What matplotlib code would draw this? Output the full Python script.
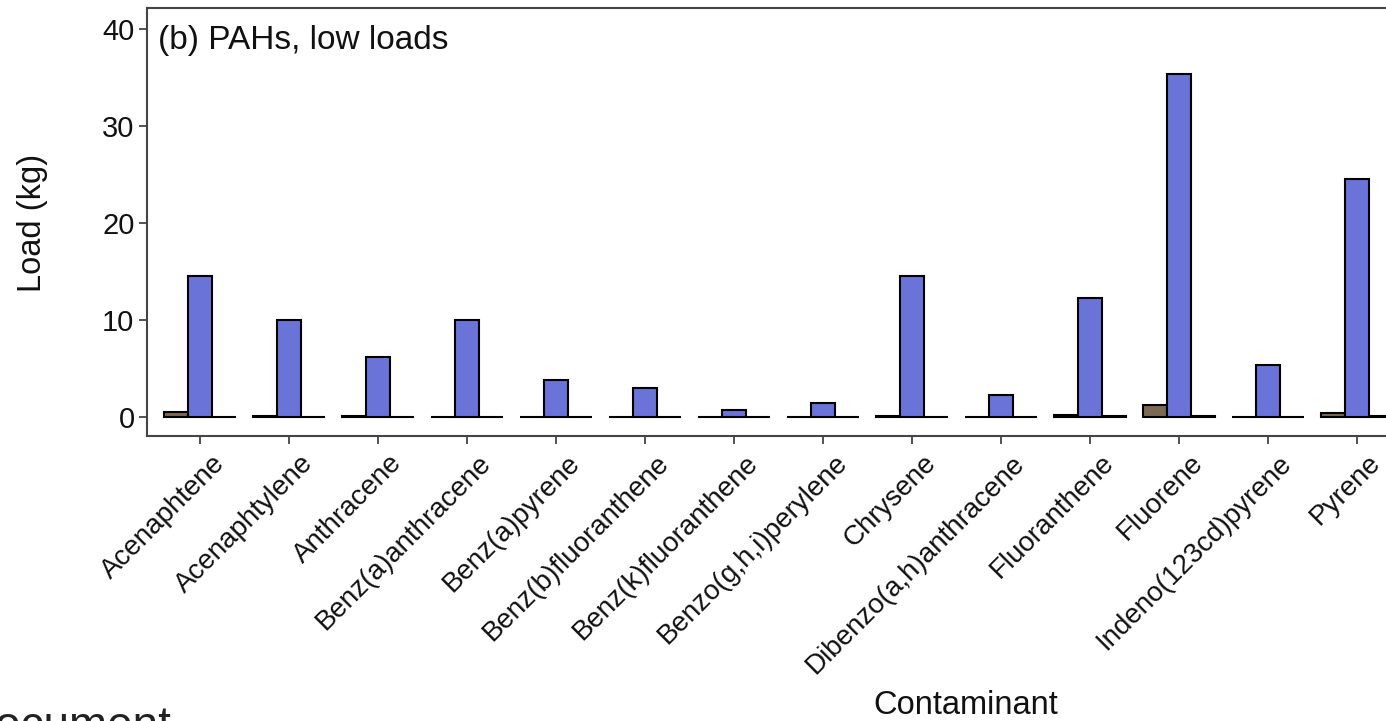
import numpy as np
import matplotlib
matplotlib.use("Agg")
from matplotlib import pyplot as plt
from matplotlib.transforms import ScaledTranslation, blended_transform_factory

plt.rcParams['font.family'] = ['Liberation Sans', 'DejaVu Sans']

contaminants = ["Acenaphtene", "Acenaphtylene", "Anthracene", "Benz(a)anthracene",
                "Benz(a)pyrene", "Benz(b)fluoranthene", "Benz(k)fluoranthene",
                "Benzo(g,h,i)perylene", "Chrysene", "Dibenzo(a,h)anthracene",
                "Fluoranthene", "Fluorene", "Indeno(123cd)pyrene", "Pyrene"]
load_a = [0.55, 0.08, 0.08, 0.05, 0.05, 0.05, 0.03, 0.05, 0.08, 0.03, 0.25, 1.25, 0.04, 0.45]
load_b = [14.6, 10.0, 6.2, 10.0, 3.8, 3.0, 0.7, 1.5, 14.6, 2.3, 12.3, 35.4, 5.4, 24.6]
load_c = [0.06, 0.04, 0.04, 0.03, 0.03, 0.03, 0.02, 0.03, 0.04, 0.02, 0.08, 0.15, 0.02, 0.08]
y_ticks = [0, 10, 20, 30, 40]

fig = plt.figure(figsize=(13.86, 7.21), dpi=100)
# panel runs past the right edge of the canvas
ax = fig.add_axes([147/1386, (721-436)/721, 1263/1386, 428/721])

x = np.arange(len(contaminants))
w = 0.27
kw = dict(width=w, edgecolor="black", linewidth=1.5, zorder=3)
ax.bar(x - w, load_a, color="#7b6a52", **kw)
ax.bar(x, load_b, color="#6a74d8", **kw)
ax.bar(x + w, load_c, color="#d9d9d9", **kw)

ax.set_xlim(-0.6, len(contaminants) - 0.4)
ax.set_ylim(-1.95, 42.2)
ax.set_yticks(y_ticks)
ax.set_xticks(x)
ax.set_xticklabels([])

# rotated category names, ends sitting just right of each tick
trans = blended_transform_factory(ax.transData, ax.transAxes) + \
    ScaledTranslation(11/100, -14/100, fig.dpi_scale_trans)
for xi, name in zip(x, contaminants):
    ax.text(xi, 0, name, transform=trans, rotation=45, ha="right", va="top",
            rotation_mode="anchor", fontsize=20, color="#111111", clip_on=False)

for s in ax.spines.values():
    s.set_color("#444444")
    s.set_linewidth(1.5)
ax.tick_params(axis="both", colors="#444444", width=1.3, length=6,
               labelsize=21, labelcolor="#111111", pad=3)

ax.text(0.009, 0.96, "(b) PAHs, low loads", transform=ax.transAxes,
        fontsize=24, va="top", ha="left", color="#111111")

fig.text(32/1386, 1 - 223/721, "Load (kg)", rotation=90, fontsize=23.5,
         ha="center", va="center", color="#111111")
fig.text(966/1386, 1 - 706/721, "Contaminant", fontsize=23.5,
         ha="center", va="center", color="#111111")
fig.text(-38/1386, 1 - 739/721, "Document", fontsize=33, color="#222222",
         ha="left", va="baseline")

fig.savefig("out.png", dpi=100)
